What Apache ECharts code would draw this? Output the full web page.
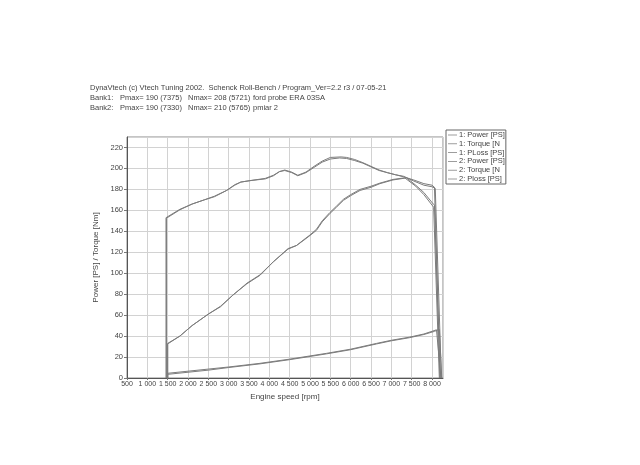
<!DOCTYPE html>
<html>
<head>
<meta charset="utf-8">
<script src="https://cdn.jsdelivr.net/npm/echarts@6/dist/echarts.min.js"></script>
<style>
html,body{margin:0;padding:0;background:#fff;}
#c{width:640px;height:465px;}
</style>
</head>
<body>
<div id="c"></div>
<script>
// ---- data ----
const xTicks = [500,1000,1500,2000,2500,3000,3500,4000,4500,5000,5500,6000,6500,7000,7500,8000];
const yTicks = [0,20,40,60,80,100,120,140,160,180,200,220];

const torque1Rpm = [1460,1460,1800,2100,2400,2650,2950,3150,3300,3550,3900,4100,4250,4380,4550,4700,4900,5100,5300,5500,5730,5900,6100,6300,6500,6700,6900,7100,7300,7550,7800,8000,8060,8200];
const torque1Val = [0,153,161,166,170,173,179,184,187,188.5,190,193,197,198,196,193,196,201,206,209,210,209.5,207.5,205,201.5,198,196,194,192,189,185.5,184,182,0];

const torque2Rpm = [1470,1470,1800,2100,2400,2650,2950,3150,3300,3550,3900,4100,4250,4380,4550,4700,4900,5100,5300,5500,5765,5900,6100,6300,6500,6700,6900,7100,7300,7550,7800,8000,8080,8230];
const torque2Val = [0,152.5,160.5,166,170,173.5,179,184.5,187,188.5,190.5,193.5,197,198.5,196.5,193.5,196.5,202,207,210.5,211,210.5,208.5,205.5,202,198.5,196,194,192.5,188,184,182.5,181,0];

const power1Rpm = [1500,1500,1800,2100,2500,2800,3100,3450,3770,4100,4460,4670,4830,5000,5160,5300,5490,5650,5820,6000,6230,6500,6720,7040,7375,7600,7800,8010,8060,8200];
const power1Val = [0,33,40,50,61,68,79,90,98,111,123,126.5,131,136,141,149,157,163,169.5,174,179,182,185.5,189,191,184,177,167,165,0];

const power2Rpm = [1500,1500,1800,2100,2500,2800,3100,3450,3770,4100,4460,4670,4830,5000,5160,5300,5490,5650,5820,6000,6230,6500,6720,7040,7330,7600,7800,8000,8040,8180];
const power2Val = [0,32.5,40,50,61,68.5,79,90.5,98.5,111,123.5,126.5,131.5,136.5,142,150,158,164,170.5,175,180,183,186,189.5,191,183,175,165,163,0];

const loss1Rpm = [1500,1500,2000,2500,3000,3770,4500,5400,6000,6635,7000,7450,7800,8110,8150,8220];
const loss1Val = [0,4.5,6.5,8.5,10.5,14,18,23.5,27.5,33,36,39,42,46,45,0];

const loss2Rpm = [1500,1500,2000,2500,3000,3770,4500,5400,6000,6635,7000,7450,7800,8060,8180,8240];
const loss2Val = [0,3.5,5.5,7.5,10,13.5,17.5,23,27,32.5,35.5,38.5,41.5,44.5,46.5,0];

const seriesNames = ['1: Power [PS]','1: Torque [Nm]','1: PLoss [PS]','2: Power [PS]','2: Torque [Nm]','2: Ploss [PS]'];

function pairs(xs, ys){ return xs.map((x,i)=>[x, ys[i]]); }

const lineColor = '#7c7c7c';
const font = 'Liberation Sans, Arial, sans-serif';

const chart = echarts.init(document.getElementById('c'), null, {renderer:'canvas'});

const seriesData = [
  pairs(power1Rpm, power1Val),
  pairs(torque1Rpm, torque1Val),
  pairs(loss1Rpm, loss1Val),
  pairs(power2Rpm, power2Val),
  pairs(torque2Rpm, torque2Val),
  pairs(loss2Rpm, loss2Val)
];

const fmt = v => {
  const s = String(v);
  return s.length > 3 ? s.slice(0, s.length-3) + ' ' + s.slice(-3) : s;
};

chart.setOption({
  animation: false,
  backgroundColor: '#ffffff',
  textStyle: {fontFamily: font},
  grid: {left:127, top:137, width:316, height:241, show:true, borderColor:'#8a8a8a', borderWidth:1, backgroundColor:'transparent'},
  xAxis: {
    type:'value', min:500, max:8270, interval:500,
    name:'Engine speed [rpm]', nameLocation:'middle', nameGap:13,
    nameTextStyle:{fontSize:8, color:'#444', fontFamily:font},
    axisLine:{show:true, lineStyle:{color:'#555', width:1}},
    axisTick:{show:true, length:2, lineStyle:{color:'#777'}},
    axisLabel:{fontSize:7, color:'#444', margin:3, showMaxLabel:false, hideOverlap:false, formatter: v => xTicks.includes(v) ? fmt(v) : ''},
    splitLine:{show:true, lineStyle:{color:'#d2d2d2', width:1}}
  },
  yAxis: {
    type:'value', min:0, max:230, interval:20,
    name:'Power [PS] / Torque [Nm]', nameLocation:'middle', nameGap:27, nameRotate:90,
    nameTextStyle:{fontSize:8, color:'#444', fontFamily:font},
    axisLine:{show:true, lineStyle:{color:'#555', width:1}},
    axisTick:{show:true, length:3, lineStyle:{color:'#777'}},
    axisLabel:{fontSize:7.5, color:'#444', margin:4, showMaxLabel:false, formatter: v => yTicks.includes(v) ? String(v) : ''},
    splitLine:{show:true, lineStyle:{color:'#d2d2d2', width:1}}
  },
  legend: {
    orient:'vertical', left:446, top:130,
    data: seriesNames,
    icon:'path://M0,4 L12,4 L12,5 L0,5 Z',
    itemWidth:9, itemHeight:8, itemGap:0.8,
    padding:[1,1,1,2],
    borderColor:'#666', borderWidth:1, backgroundColor:'#fff',
    textStyle:{fontSize:7.5, color:'#444', padding:[0,0,0,-3], fontFamily:font, width:47, overflow:'truncate', ellipsis:''},
    selectedMode:false
  },
  graphic: [
    {type:'text', left:90, top:84, style:{text:'DynaVtech (c) Vtech Tuning 2002.  Schenck Roll-Bench / Program_Ver=2.2 r3 / 07-05-21', fontSize:7.5, fill:'#444', fontFamily:font}},
    {type:'text', left:90, top:94, style:{text:'Bank1:', fontSize:7.5, fill:'#444', fontFamily:font}},
    {type:'text', left:120, top:94, style:{text:'Pmax= 190 (7375)', fontSize:7.5, fill:'#444', fontFamily:font}},
    {type:'text', left:188, top:94, style:{text:'Nmax= 208 (5721)', fontSize:7.5, fill:'#444', fontFamily:font}},
    {type:'text', left:253, top:94, style:{text:'ford probe ERA 03SA', fontSize:7.5, fill:'#444', fontFamily:font}},
    {type:'text', left:90, top:104, style:{text:'Bank2:', fontSize:7.5, fill:'#444', fontFamily:font}},
    {type:'text', left:120, top:104, style:{text:'Pmax= 190 (7330)', fontSize:7.5, fill:'#444', fontFamily:font}},
    {type:'text', left:188, top:104, style:{text:'Nmax= 210 (5765)', fontSize:7.5, fill:'#444', fontFamily:font}},
    {type:'text', left:253, top:104, style:{text:'pmiar 2', fontSize:7.5, fill:'#444', fontFamily:font}}
  ],
  series: seriesNames.map((n, i) => ({
    name:n, type:'line', data: seriesData[i], symbol:'none', smooth:false,
    lineStyle:{color: lineColor, width:1},
    itemStyle:{color: lineColor},
    z: 2
  }))
});
</script>
</body>
</html>
